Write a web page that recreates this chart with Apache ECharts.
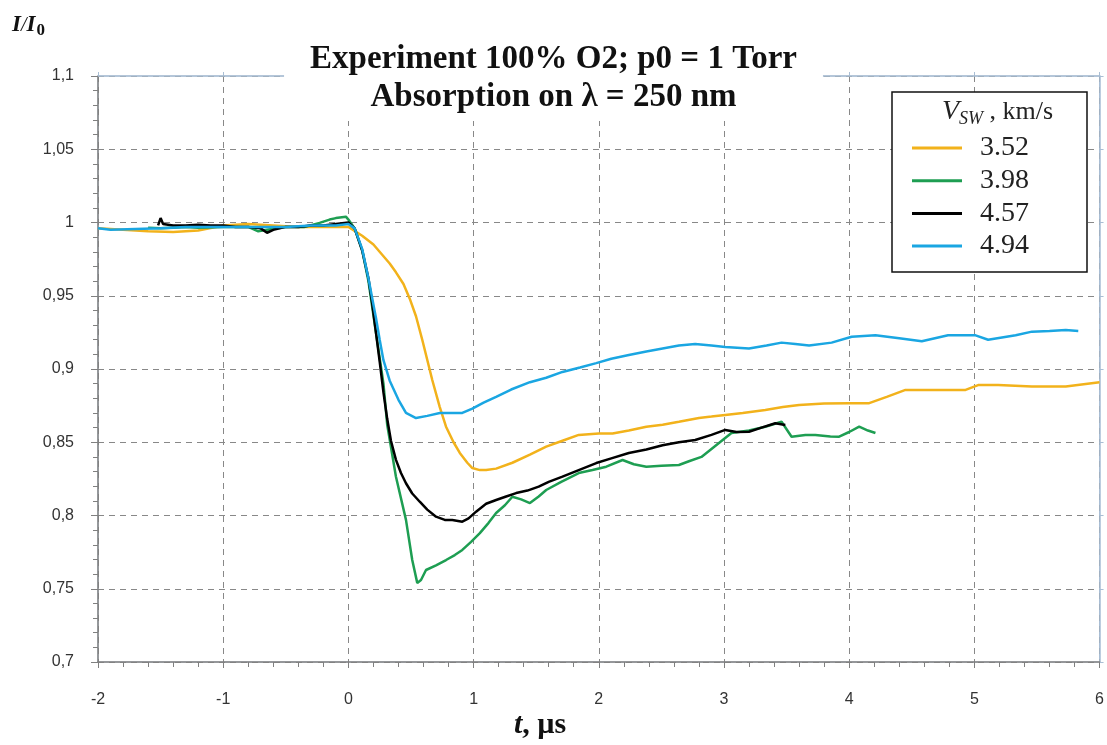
<!DOCTYPE html>
<html>
<head>
<meta charset="utf-8">
<style>
  html, body { margin: 0; padding: 0; background: #fff; }
  #chart { width: 1107px; height: 745px; }
</style>
<script src="https://cdn.jsdelivr.net/npm/echarts@6/dist/echarts.min.js"></script>
</head>
<body>
<div id="chart"></div>
<script>
// Shock-wave absorption traces, I/I0 versus time (µs), one per shock velocity
const seriesNames = ['3.52', '3.98', '4.57', '4.94'];
const seriesColors = ['#F2B21B', '#1E9E52', '#000000', '#1AA6E2'];

const t352 = [-2, -1.8, -1.6, -1.4, -1.2, -1.0, -0.8, -0.6, -0.4, -0.2, 0, 0.11, 0.2, 0.27, 0.33, 0.38, 0.44, 0.49, 0.54, 0.59, 0.67, 0.73, 0.78, 0.84, 0.89, 0.95, 0.99, 1.05, 1.1, 1.18, 1.31, 1.45, 1.58, 1.71, 1.84, 2.0, 2.11, 2.24, 2.38, 2.51, 2.64, 2.8, 2.9, 3.01, 3.15, 3.33, 3.47, 3.6, 3.8, 4.0, 4.16, 4.3, 4.45, 4.66, 4.93, 5.03, 5.19, 5.46, 5.73, 6.0];
const v352 = [0.996, 0.995, 0.994, 0.9935, 0.9945, 0.998, 0.999, 0.998, 0.997, 0.997, 0.997, 0.991, 0.985, 0.978, 0.972, 0.966, 0.958, 0.948, 0.936, 0.920, 0.8925, 0.874, 0.8606, 0.850, 0.8427, 0.836, 0.8324, 0.831, 0.831, 0.832, 0.836, 0.8415, 0.847, 0.851, 0.855, 0.856, 0.856, 0.858, 0.8606, 0.862, 0.864, 0.8666, 0.8675, 0.8686, 0.870, 0.872, 0.874, 0.8755, 0.8765, 0.8767, 0.8767, 0.881, 0.8857, 0.8857, 0.8857, 0.889, 0.889, 0.888, 0.888, 0.891];

const t398 = [-1.6, -1.5, -1.4, -1.3, -1.2, -1.0, -0.8, -0.72, -0.65, -0.5, -0.35, -0.23, -0.15, -0.1, -0.02, 0, 0.05, 0.11, 0.16, 0.22, 0.28, 0.31, 0.38, 0.46, 0.51, 0.55, 0.58, 0.62, 0.7, 0.78, 0.85, 0.91, 0.98, 1.05, 1.12, 1.18, 1.25, 1.31, 1.38, 1.45, 1.52, 1.58, 1.7, 1.84, 1.95, 2.06, 2.19, 2.28, 2.38, 2.5, 2.64, 2.72, 2.82, 2.96, 3.06, 3.2, 3.33, 3.46, 3.54, 3.65, 3.73, 3.85, 3.92, 4.0, 4.08, 4.15, 4.21];
const v398 = [0.9965, 0.996, 0.9965, 0.997, 0.9965, 0.997, 0.997, 0.994, 0.995, 0.997, 0.997, 0.9997, 1.002, 1.003, 1.004, 1.002, 0.996, 0.981, 0.96, 0.925, 0.89, 0.862, 0.8265, 0.797, 0.7696, 0.754, 0.756, 0.7628, 0.766, 0.7696, 0.773, 0.7765, 0.782, 0.788, 0.795, 0.8017, 0.807, 0.8128, 0.811, 0.8085, 0.813, 0.8174, 0.823, 0.829, 0.831, 0.8333, 0.8379, 0.835, 0.8333, 0.834, 0.8345, 0.837, 0.840, 0.8495, 0.8563, 0.858, 0.8606, 0.864, 0.8538, 0.855, 0.855, 0.854, 0.8538, 0.857, 0.8606, 0.858, 0.8563];

const t457 = [-1.52, -1.5, -1.48, -1.4, -1.3, -1.2, -1.1, -1.0, -0.9, -0.8, -0.7, -0.65, -0.6, -0.5, -0.4, -0.3, -0.2, -0.1, 0, 0.05, 0.11, 0.16, 0.19, 0.22, 0.25, 0.28, 0.31, 0.34, 0.38, 0.42, 0.46, 0.51, 0.57, 0.63, 0.7, 0.77, 0.83, 0.91, 0.96, 1.02, 1.1, 1.18, 1.26, 1.34, 1.43, 1.52, 1.6, 1.71, 1.84, 1.98, 2.1, 2.24, 2.38, 2.51, 2.64, 2.77, 2.9, 3.01, 3.1, 3.2, 3.3, 3.41, 3.49];
const v457 = [0.998, 1.003, 0.999, 0.998, 0.998, 0.9985, 0.998, 0.998, 0.997, 0.997, 0.996, 0.993, 0.995, 0.997, 0.997, 0.998, 0.998, 0.999, 1.0, 0.996, 0.981, 0.962, 0.945, 0.925, 0.905, 0.884, 0.866, 0.851, 0.838, 0.829, 0.822, 0.815, 0.8094, 0.804, 0.7992, 0.797, 0.797, 0.7958, 0.798, 0.8026, 0.808, 0.8106, 0.813, 0.8153, 0.817, 0.8197, 0.823, 0.8265, 0.831, 0.8358, 0.839, 0.8427, 0.845, 0.848, 0.850, 0.8515, 0.855, 0.8584, 0.857, 0.8572, 0.860, 0.863, 0.8618];

const t494 = [-2, -1.9, -1.7, -1.5, -1.3, -1.1, -0.9, -0.7, -0.5, -0.3, -0.1, 0, 0.05, 0.11, 0.16, 0.22, 0.25, 0.28, 0.33, 0.4, 0.46, 0.54, 0.63, 0.73, 0.82, 0.91, 0.99, 1.08, 1.18, 1.3, 1.45, 1.58, 1.71, 1.85, 1.98, 2.1, 2.24, 2.38, 2.51, 2.64, 2.77, 2.9, 3.01, 3.2, 3.34, 3.46, 3.57, 3.68, 3.86, 4.02, 4.21, 4.4, 4.58, 4.79, 5.01, 5.11, 5.33, 5.46, 5.6, 5.73, 5.83];
const v494 = [0.996, 0.995, 0.9955, 0.996, 0.997, 0.997, 0.997, 0.997, 0.997, 0.998, 0.998, 0.999, 0.996, 0.982, 0.962, 0.935, 0.92, 0.906, 0.892, 0.879, 0.870, 0.8665, 0.868, 0.870, 0.870, 0.870, 0.873, 0.877, 0.881, 0.886, 0.891, 0.894, 0.898, 0.901, 0.904, 0.907, 0.9096, 0.912, 0.914, 0.916, 0.917, 0.916, 0.915, 0.914, 0.916, 0.918, 0.917, 0.916, 0.918, 0.922, 0.923, 0.921, 0.919, 0.923, 0.923, 0.920, 0.923, 0.9255, 0.926, 0.9266, 0.926];

const times = [t352, t398, t457, t494];
const values = [v352, v398, v457, v494];

const SERIF = "'Liberation Serif', 'Times New Roman', serif";
const SANS = "'Liberation Sans', Arial, sans-serif";
const FRAME = '#A9BED4';
const AXIS = '#808080';

const pairs = (ts, vs) => ts.map((t, i) => [t, vs[i]]);
const commaFmt = v => String(+v.toFixed(2)).replace('.', ',');

const chart = echarts.init(document.getElementById('chart'), null, { renderer: 'canvas' });

chart.setOption({
  backgroundColor: '#ffffff',
  animation: false,
  title: {
    text: 'Experiment 100% O2; p0 = 1 Torr\nAbsorption on \u03BB = 250 nm',
    left: 'center',
    top: 35,
    padding: [5, 26, 5, 26],
    backgroundColor: '#ffffff',
    textStyle: {
      fontFamily: SERIF,
      fontWeight: 'bold',
      fontSize: 33,
      lineHeight: 38,
      color: '#111'
    }
  },
  legend: {
    data: seriesNames.map(n => ({ name: n, icon: 'rect' })),
    orient: 'vertical',
    left: 892,
    top: 92,
    padding: [42, 58, 12, 20],
    itemWidth: 50,
    itemHeight: 3,
    itemGap: 4.7,
    backgroundColor: '#ffffff',
    borderColor: '#111',
    borderWidth: 1.5,
    borderRadius: 0,
    textStyle: { fontFamily: SERIF, fontSize: 28, lineHeight: 26, color: '#222', padding: [0, 0, 0, 13] }
  },
  grid: {
    left: 98, right: 6, top: 76, bottom: 83,
    show: true, borderColor: FRAME, borderWidth: 1
  },
  xAxis: [{
    type: 'value', min: -2, max: 6, interval: 1,
    position: 'bottom',
    axisLine: { show: true, onZero: false, lineStyle: { color: AXIS, width: 1.5 } },
    axisTick: { show: true, length: 6, lineStyle: { color: AXIS } },
    minorTick: { show: true, splitNumber: 5, length: 5, lineStyle: { color: AXIS } },
    axisLabel: { fontFamily: SANS, fontSize: 16, color: '#333', margin: 30 },
    splitLine: { show: true, lineStyle: { color: '#888', type: [6, 5], width: 1 } }
  }, {
    type: 'value', min: -2, max: 6, interval: 1,
    position: 'top',
    axisLine: { show: true, onZero: false, lineStyle: { color: FRAME, width: 1.5 } },
    axisTick: { show: true, length: 4, lineStyle: { color: FRAME } },
    axisLabel: { show: false },
    splitLine: { show: false }
  }],
  yAxis: [{
    type: 'value', min: 0.7, max: 1.1, interval: 0.05,
    position: 'left',
    axisLine: { show: true, onZero: false, lineStyle: { color: AXIS, width: 1.5 } },
    axisTick: { show: true, length: 7, lineStyle: { color: AXIS } },
    minorTick: { show: true, splitNumber: 5, length: 5, lineStyle: { color: AXIS } },
    axisLabel: { fontFamily: SANS, fontSize: 16, color: '#333', margin: 24, formatter: commaFmt },
    splitLine: { show: true, lineStyle: { color: '#888', type: [6, 5], width: 1 } }
  }, {
    type: 'value', min: 0.7, max: 1.1, interval: 0.05,
    position: 'right',
    axisLine: { show: true, onZero: false, lineStyle: { color: FRAME, width: 1.5 } },
    axisTick: { show: true, length: 4, lineStyle: { color: FRAME } },
    axisLabel: { show: false },
    splitLine: { show: false }
  }],
  series: seriesNames.map((name, i) => ({
    name: name,
    type: 'line',
    xAxisIndex: 0,
    yAxisIndex: 0,
    data: pairs(times[i], values[i]),
    symbol: 'none',
    showSymbol: false,
    lineStyle: { color: seriesColors[i], width: 2.5 },
    itemStyle: { color: seriesColors[i] },
    z: 2 + i
  })),
  graphic: [{
    type: 'text',
    left: 12,
    top: 14,
    z: 10,
    style: {
      text: '{a|I}{b|/}{a|I}{c|0}',
      rich: {
        a: { fontFamily: SERIF, fontStyle: 'italic', fontWeight: 'bold', fontSize: 23, lineHeight: 28, verticalAlign: 'middle', fill: '#111' },
        b: { fontFamily: SERIF, fontStyle: 'italic', fontSize: 20, lineHeight: 28, verticalAlign: 'middle', fill: '#111' },
        c: { fontFamily: SERIF, fontWeight: 'bold', fontSize: 17, lineHeight: 28, verticalAlign: 'bottom', padding: [0, 0, 0, 1], fill: '#111' }
      }
    }
  }, {
    type: 'text',
    left: 942,
    top: 98,
    z: 20,
    style: {
      text: '{v|V}{s|SW}{k| , km/s}',
      rich: {
        v: { fontFamily: SERIF, fontStyle: 'italic', fontSize: 28, lineHeight: 32, verticalAlign: 'middle', fill: '#222' },
        s: { fontFamily: SERIF, fontStyle: 'italic', fontSize: 18, lineHeight: 32, verticalAlign: 'bottom', fill: '#222' },
        k: { fontFamily: SERIF, fontSize: 26, lineHeight: 32, verticalAlign: 'middle', fill: '#222' }
      }
    }
  }, {
    type: 'text',
    left: 514,
    top: 710,
    z: 10,
    style: {
      text: '{t|t}{u|, \u00B5s}',
      rich: {
        t: { fontFamily: SERIF, fontStyle: 'italic', fontWeight: 'bold', fontSize: 30, fill: '#111' },
        u: { fontFamily: SERIF, fontWeight: 'bold', fontSize: 30, fill: '#111' }
      }
    }
  }]
});
</script>
</body>
</html>
